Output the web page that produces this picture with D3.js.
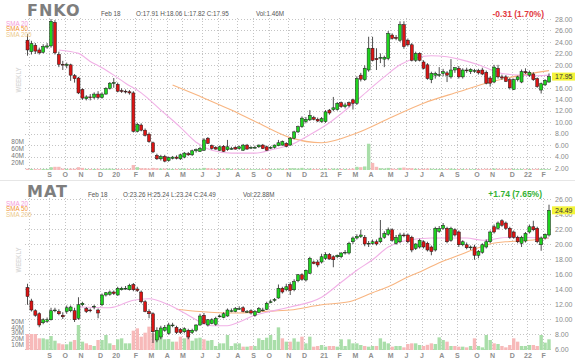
<!DOCTYPE html>
<html><head><meta charset="utf-8">
<script src="https://cdnjs.cloudflare.com/ajax/libs/d3/7.8.5/d3.min.js"></script>
<style>body{margin:0;background:#fff}svg{display:block}</style>
</head><body>
<svg id="chart" width="575" height="361"></svg>
<script>
// ---------- DATA (weekly candles) ----------
const monthTickWeeks  = [1,6,10,14,19,23,28,32,36,40,45,49,54,58,62,67,71,76,80,84,88,93,97,101,106,110,115,119,124,128,132];
const monthTickLabels = ['','S','O','N','D','20','F','M','A','M','J','J','A','S','O','N','D','21','F','M','A','M','J','J','A','S','O','N','D','22','F'];

const fnkoOpen = [24.3,22.3,23.4,22.6,22.2,23.1,23.3,27.4,21.8,20.1,
19.9,20.0,18.1,17.7,15.7,14.1,14.4,14.3,14.9,14.3,
14.9,15.9,16.8,16.6,15.5,15.4,15.3,15.1,8.4,9.5,
8.6,7.9,6.4,4.2,3.6,4.0,3.3,3.7,3.9,3.6,
3.9,4.5,4.3,5.0,4.9,5.1,7.2,5.9,5.6,5.1,
5.8,5.2,5.4,5.6,5.4,5.1,6.0,5.5,5.6,5.7,
6.0,5.7,5.5,5.6,5.9,6.0,6.3,
6.0,7.2,8.3,
9.2,10.1,10.4,10.8,10.5,10.1,10.1,12.1,12.2,12.2,
13.4,12.7,13.4,13.9,13.3,18.2,17.4,19.1,22.9,21.1,
21.2,21.0,21.1,25.2,24.8,24.3,27.0,24.3,23.5,20.8,
22.0,20.5,20.0,17.4,18.2,18.3,18.5,18.6,17.9,19.1,
19.4,17.9,19.1,18.8,19.0,19.0,19.1,18.7,17.7,17.0,
19.4,17.9,17.9,17.4,15.7,17.4,17.0,18.8,18.2,18.4,
17.6,15.6,16.5,17.0];
const fnkoHigh = [25.4,24.2,23.8,23.0,23.6,23.8,28.0,27.8,22.3,20.7,
20.4,20.2,18.4,17.9,15.9,14.7,14.9,15.2,15.4,15.2,
16.1,17.0,17.7,16.9,15.9,15.7,15.6,15.4,9.9,9.8,
8.9,8.2,6.6,4.5,4.3,4.3,4.0,4.1,4.2,4.5,
4.8,4.8,5.2,5.4,5.7,7.2,7.4,6.1,5.8,5.9,
6.0,6.9,5.7,5.8,5.9,6.2,6.2,5.8,5.9,6.1,
6.2,5.9,5.8,6.1,6.9,6.8,6.5,
7.4,8.5,9.4,
11.0,10.9,12.1,11.1,10.8,10.9,12.1,12.3,14.4,13.5,
13.6,13.4,13.6,14.1,18.0,18.6,19.9,24.9,24.9,22.9,
22.0,21.6,25.9,25.5,25.2,27.6,27.6,24.6,23.8,22.3,
22.2,20.8,20.3,18.8,18.8,19.6,19.3,18.9,21.0,19.6,
19.8,19.4,19.5,19.4,19.3,19.3,19.5,19.0,18.0,20.0,
20.0,18.3,18.2,17.7,17.6,18.1,19.2,19.4,19.0,18.7,
17.8,16.9,17.5,18.5];
const fnkoLow = [21.6,21.8,21.9,21.8,22.0,22.8,23.0,21.8,19.6,19.1,
19.4,17.2,16.9,14.9,13.9,13.8,13.8,14.0,14.0,14.1,
14.8,15.7,16.0,15.2,15.1,15.0,14.8,8.2,8.2,8.4,
7.5,6.4,4.6,3.4,3.3,3.0,3.1,3.5,3.5,3.4,
3.7,4.1,4.1,4.7,4.8,5.0,6.2,5.2,5.2,5.0,
4.8,5.0,5.2,5.2,5.2,5.0,5.2,5.3,5.4,5.5,
5.3,5.0,5.3,5.4,5.8,5.9,5.6,
5.9,7.0,8.1,
9.0,9.8,10.2,10.3,10.0,9.9,9.9,11.3,11.9,12.0,
12.5,12.4,12.6,12.2,13.0,17.1,17.2,18.8,20.6,19.1,
20.3,19.6,20.8,24.4,24.3,24.0,22.8,23.2,20.6,20.5,
20.6,19.2,17.4,16.8,17.6,17.9,18.0,17.0,17.6,18.6,
17.6,17.6,18.6,18.4,18.6,18.3,18.2,16.6,16.2,16.8,
17.6,17.4,17.0,15.7,15.6,17.1,16.8,18.4,17.9,17.2,
16.0,15.0,16.3,16.9];
const fnkoClose = [22.6,23.7,22.4,22.1,23.2,23.3,27.6,22.1,20.1,20.0,
20.1,18.2,17.6,15.1,14.2,14.4,14.3,14.9,14.3,14.9,
15.9,16.8,16.9,15.4,15.4,15.3,15.1,8.4,9.6,8.6,
7.7,6.6,4.8,3.6,4.0,3.2,3.8,3.9,3.7,4.3,
4.6,4.3,5.0,5.2,5.4,6.9,6.3,5.4,5.3,5.7,
4.9,5.7,5.4,5.3,5.7,6.0,5.3,5.6,5.6,6.0,
5.4,5.1,5.6,6.0,6.4,6.6,5.8,
7.2,8.3,9.2,
10.7,10.5,11.2,10.5,10.2,10.6,11.8,11.6,12.5,13.3,
12.7,13.0,12.9,13.3,17.6,17.5,19.4,22.9,20.8,20.9,
21.3,21.3,25.5,24.6,24.6,27.0,23.2,23.5,20.8,22.0,
20.8,19.4,17.6,18.5,18.5,18.3,18.8,18.2,19.1,19.5,
17.9,19.1,19.0,19.2,19.0,18.6,18.4,16.8,16.8,19.6,
17.9,17.7,17.1,16.0,17.4,17.9,18.8,18.6,18.7,17.4,
16.2,16.7,17.3,17.95];
const fnkoVolume = [3.5,3,2.5,2.5,3,3,8,9,9,4,
3,4,3.5,8,6,3,3,3,3.5,3,
3.5,4,3,3,2.5,2.5,3,14,8,5,
5,4,6,5,4,4,3.5,3,3,3.5,
4,3,3,3,3.5,6,5,4,3,3,
3,5,3,2.5,2.5,3,3,2.5,2.5,2.5,
3,3,2.5,3,4,3.5,3,
5,5,4,
6,3,4,3,3,3,4,3,4,3.5,
3,3,3,4,9,8,10,74,20,9,
5,4,6,4,3,6,7,5,5,3.5,
3,3,4,3.5,3,3,2.5,3,4,3,
3,3,2.5,2.5,2.5,3,2.5,3.5,3,4,
3.5,2.5,3,3.5,3,2.5,3,2.5,3,2.5,
3.5,3,2.5,2.5];

const matOpen = [14.2,12.4,11.1,10.7,9.5,9.7,9.9,11.2,11.0,10.5,
11.0,11.1,11.1,10.1,11.9,11.4,11.2,11.6,11.2,11.9,
13.2,13.3,13.6,13.2,13.9,14.1,13.9,14.6,14.0,13.6,
12.3,11.0,10.7,7.2,7.6,8.5,8.1,9.2,8.9,8.6,
8.3,8.5,8.2,8.5,9.2,10.5,9.2,9.4,9.3,10.4,
10.2,10.4,11.1,11.0,11.4,11.5,11.0,11.1,10.5,10.9,
11.2,11.3,12.3,12.5,12.8,14.1,13.9,
14.6,13.9,15.1,
15.9,15.2,16.1,17.6,17.6,17.6,18.1,18.6,18.3,18.3,
18.3,18.9,18.8,20.3,20.8,21.0,20.9,20.0,20.1,20.3,
20.3,20.9,21.3,21.9,20.1,20.3,21.2,21.2,20.9,19.4,
19.6,20.3,20.1,19.6,19.2,21.7,22.1,22.1,20.5,21.9,
21.6,19.9,19.9,19.5,19.6,18.5,18.9,19.6,20.3,22.3,
22.1,23.1,22.8,22.1,21.6,20.9,20.1,20.4,21.6,22.3,
22.1,19.9,20.8,21.2];
const matHigh = [14.7,12.7,11.3,10.9,10.1,10.2,11.5,11.5,11.3,10.9,
11.8,11.8,11.5,12.9,12.3,11.6,11.4,11.9,11.4,13.4,
13.6,13.8,13.8,14.3,14.3,14.4,14.7,14.8,14.3,13.8,
12.5,11.3,10.9,8.9,9.1,9.2,9.5,9.5,9.1,8.8,
8.9,8.7,8.7,9.3,10.7,10.8,10.0,10.1,10.3,10.6,
10.9,11.4,11.4,11.6,11.7,11.7,11.2,11.3,11.2,11.6,
11.5,12.3,12.6,12.8,14.6,14.3,14.7,
14.9,15.3,16.0,
16.1,16.6,18.3,17.8,17.9,18.7,18.9,18.8,18.5,18.6,
18.9,19.2,20.3,21.0,21.3,21.9,21.2,20.4,20.6,20.6,
23.2,21.7,22.2,22.1,21.2,21.5,21.5,21.4,21.1,20.1,
20.7,20.5,20.3,19.8,22.3,22.4,22.8,22.3,22.3,22.1,
21.8,20.5,20.2,19.8,19.9,19.2,20.1,20.6,21.8,22.6,
23.0,23.3,23.0,22.3,21.8,21.1,21.1,21.6,22.6,23.1,
22.3,21.0,21.4,25.24];
const matLow = [11.9,11.0,10.3,8.9,9.3,9.5,9.8,10.9,10.5,10.0,
10.7,10.9,9.6,9.9,11.7,10.8,10.9,11.3,10.1,11.7,
13.0,13.1,13.2,13.1,13.8,13.9,13.8,13.7,13.6,12.1,
10.9,10.1,6.8,6.9,7.3,8.3,7.9,8.9,8.0,8.0,
8.1,7.3,8.0,8.3,9.1,9.3,9.0,9.3,9.1,10.2,
10.1,10.3,10.9,10.9,11.2,10.9,10.8,10.6,10.3,10.8,
11.0,11.2,12.1,12.3,12.7,13.4,13.7,
13.2,13.7,14.9,
15.1,15.0,16.0,17.3,16.9,17.4,17.9,17.9,16.9,18.1,
18.1,18.6,18.6,20.0,20.6,20.8,19.7,19.6,19.9,19.8,
20.1,20.7,21.1,20.3,19.9,20.1,20.9,20.1,18.9,19.2,
19.4,19.4,19.0,18.5,19.0,21.5,21.9,20.1,20.3,21.0,
19.6,19.7,19.3,19.2,17.9,18.1,18.7,19.4,20.1,21.4,
21.9,22.3,21.9,20.7,20.7,20.1,19.6,20.2,21.4,21.7,
20.1,19.1,20.6,21.0];
const matClose = [13.0,11.2,10.5,9.2,9.9,9.9,11.1,11.2,10.7,10.3,
11.5,11.6,9.9,11.9,12.1,11.0,11.1,11.7,10.8,13.2,
13.5,13.6,13.4,14.1,14.1,14.1,14.5,13.9,13.8,12.3,
11.0,10.7,8.3,8.5,8.8,8.9,9.2,9.2,8.2,8.2,
8.7,7.6,8.5,9.2,10.4,9.4,9.9,9.9,10.1,10.4,
10.7,11.2,11.1,11.4,11.4,11.0,11.0,10.8,11.0,11.4,
11.2,12.1,12.3,12.6,14.1,13.6,14.3,
13.8,15.0,15.9,
15.3,16.5,18.1,17.4,17.2,18.3,18.6,18.0,17.9,18.5,
18.8,18.9,20.1,20.8,21.0,21.2,20.0,20.1,20.3,20.0,
20.8,21.4,21.9,20.5,20.9,21.2,21.1,20.3,19.2,20.0,
20.5,19.6,19.2,19.0,22.1,22.1,22.5,20.3,22.1,21.2,
19.9,20.3,19.5,19.6,18.5,19.0,19.9,20.3,21.6,21.6,
22.8,22.5,22.1,20.9,20.9,20.3,20.9,21.4,22.3,21.9,
20.3,20.8,21.3,24.49];
const matVolume = [27.8,27.8,27.8,20.3,20.3,18.6,24.3,16.2,11.6,9.9,
9.9,14.5,17.4,43.5,14.5,11.6,8.7,7.0,17.4,17.4,
26.1,11.6,8.7,18.6,20.3,11.6,11.6,33.6,37.7,23.2,
30.1,40.6,29.0,34.8,26.1,18.6,19.1,14.5,14.5,23.2,
20.3,23.2,16.2,20.3,21.4,18.6,16.2,17.4,7.0,11.6,
11.6,26.1,7.0,11.6,11.6,5.8,5.8,7.0,7.0,20.3,
17.4,21.4,26.1,17.4,39.4,20.3,14.5,
14.5,20.3,14.5,23.2,11.6,23.2,5.8,7.0,8.7,5.8,
7.0,7.0,5.8,18.6,7.0,18.6,11.6,11.6,8.7,7.0,
5.8,7.0,7.0,20.3,14.5,11.6,5.8,7.0,7.0,4.6,
10.4,11.6,11.6,8.7,7.0,9.0,11.6,10.4,22.0,17.4,
14.5,7.0,7.0,5.8,5.8,4.6,7.0,20.3,7.0,4.6,
26.1,17.4,11.6,10.4,7.0,4.6,8.7,20.3,14.5,7.0,
7.0,8.7,8.7,7.0,26.1,12.8,18.6];

// moving averages (week index, value)
const fnkoSma20Week = [8,13,16,19,22,25,29,34,39,43,47,52,58,63,67,72,77,82,87,91,95,99,103,107,110,115,118,121,126,130,133];
const fnkoSma20 = [22.6,22.0,20.6,19.5,18.2,16.8,15.1,12.1,9.1,6.5,5.1,4.6,4.6,5.3,6.0,7.8,9.9,12.6,15.6,17.9,20.0,21.2,21.6,21.4,21.0,20.0,19.2,18.5,18.2,18.1,18.2];
const fnkoSma50Week = [37,44,52,59,67,75,84,93,101,110,118,126,133];
const fnkoSma50 = [16.5,14.5,12.1,9.8,7.3,6.4,8.1,10.9,13.3,15.3,17.0,18.2,19.0];
const matSma20Week = [13,21,27,31,36,41,44,47,51,54,58,61,67,75,80,84,88,92,96,103,112,116,123,133];
const matSma20 = [11.6,11.5,12.5,12.7,11.9,10.5,9.6,9.1,9.1,9.6,10.5,10.9,11.6,12.9,14.9,16.5,17.9,19.6,20.4,20.8,20.8,20.5,20.9,20.8];
const matSma50Week = [38,44,53,60,67,75,82,88,92,97,101,105,110,115,118,122,126,133];
const matSma50 = [11.3,11.0,10.8,11.0,11.2,11.9,12.3,13.5,14.3,15.6,16.5,17.5,18.5,19.5,20.0,20.3,20.4,20.8];

const fnkoPriceTicks = [2,4,6,8,10,12,14,16,18,20,22,24,26,28];
const matPriceTicks = [6,8,10,12,14,16,18,20,22,24,26];
const fnkoVolTicks = [20,40,60,80];
const matVolTicks = [10,20,30,40,50];

// ---------- DRAW ----------
const FONT = '"Liberation Sans", Arial, sans-serif';
const svg = d3.select('#chart');
const N = fnkoClose.length;
const x = d3.scaleLinear().domain([0, N - 1]).range([27.5, 549]);

svg.append('line').attr('x1',0).attr('x2',575).attr('y1',180.5).attr('y2',180.5).attr('stroke','#e6e6e6');

function panel(o) {
  const g = svg.append('g');
  const y = d3.scaleLinear().domain(o.yDomain).range(o.yRange);
  const yv = d3.scaleLinear().domain([0, o.volMax]).range([o.volBase, o.volTop]);
  const top = o.yRange[1];

  // grid
  g.append('g').selectAll('line').data(o.priceTicks).join('line')
    .attr('x1', 25).attr('x2', 551)
    .attr('y1', d => Math.round(y(d)) + 0.5).attr('y2', d => Math.round(y(d)) + 0.5)
    .attr('stroke', '#c4c4c4').attr('stroke-dasharray', '1,2');
  g.append('g').selectAll('line').data(monthTickWeeks).join('line')
    .attr('x1', d => Math.round(x(d - 0.5)) + 0.5).attr('x2', d => Math.round(x(d - 0.5)) + 0.5)
    .attr('y1', top - 1).attr('y2', o.volBase)
    .attr('stroke', '#c4c4c4').attr('stroke-dasharray', '1,2');

  // volume
  const idx = d3.range(N);
  g.append('g').selectAll('rect').data(idx).join('rect')
    .attr('x', i => x(i) - 1.7).attr('width', 3.4)
    .attr('y', i => yv(o.vol[i])).attr('height', i => o.volBase - yv(o.vol[i]))
    .attr('fill', i => o.close[i] >= o.open[i] ? '#a9dea9' : '#f7b9b9');

  // moving averages
  const line = d3.line().x(d => x(d[0])).y(d => y(d[1])).curve(d3.curveMonotoneX);
  g.append('path').datum(o.sma50Week.map((w, k) => [w, o.sma50[k]]))
    .attr('d', line).attr('fill', 'none').attr('stroke', '#f8b581').attr('stroke-width', 1.1);
  g.append('path').datum(o.sma20Week.map((w, k) => [w, o.sma20[k]]))
    .attr('d', line).attr('fill', 'none').attr('stroke', '#f1b0e6').attr('stroke-width', 1.1);

  // candles
  const c = g.append('g');
  c.selectAll('line').data(idx).join('line')
    .attr('x1', i => x(i)).attr('x2', i => x(i))
    .attr('y1', i => y(o.high[i])).attr('y2', i => y(o.low[i]))
    .attr('stroke', '#222').attr('stroke-width', 0.8);
  c.selectAll('rect').data(idx).join('rect')
    .attr('x', i => x(i) - 1.5).attr('width', 3)
    .attr('y', i => y(Math.max(o.open[i], o.close[i])))
    .attr('height', i => Math.max(0.8, Math.abs(y(o.open[i]) - y(o.close[i]))))
    .attr('fill', i => o.close[i] >= o.open[i] ? '#1fd41f' : '#dc1414')
    .attr('stroke', '#1a1a1a').attr('stroke-width', 0.5);

  // price axis (right)
  const ay = g.append('g').attr('transform', 'translate(551,0)')
    .call(d3.axisRight(y).tickValues(o.priceTicks).tickFormat(d3.format('.2f')).tickSize(0).tickPadding(4));
  ay.select('.domain').remove();
  ay.attr('font-size', 7).attr('font-family', FONT);
  ay.selectAll('text').attr('fill', '#8a8a8a');

  // volume axis (left)
  const av = g.append('g').attr('transform', 'translate(25,0)')
    .call(d3.axisLeft(yv).tickValues(o.volTicks).tickFormat(d => d + 'M').tickSize(0).tickPadding(1));
  av.select('.domain').remove();
  av.attr('font-size', 6.5).attr('font-family', FONT);
  av.selectAll('text').attr('fill', '#777');

  // month axis (bottom)
  const ax = g.append('g').attr('transform', `translate(0,${o.monthY})`)
    .call(d3.axisBottom(x).tickValues(monthTickWeeks.map(w => w - 0.5))
      .tickFormat((d, k) => monthTickLabels[k]).tickSize(0).tickPadding(0));
  ax.select('.domain').remove();
  ax.attr('font-size', 7).attr('font-family', FONT).attr('font-weight', 'bold');
  ax.selectAll('text').attr('fill', '#8f8f8f');

  // last price tag
  const last = o.close[N - 1];
  g.append('rect').attr('x', 552).attr('y', y(last) - 4).attr('width', 23).attr('height', 8).attr('fill', '#f4f43a');
  g.append('text').attr('x', 555).attr('y', y(last) + 2.5).text(last.toFixed(2))
    .attr('font-size', 7).attr('font-family', FONT).attr('fill', '#333');

  // headers
  g.append('text').attr('x', 27).attr('y', o.titleY).text(o.title)
    .attr('font-family', '"DejaVu Sans", sans-serif').attr('font-weight', 'bold')
    .attr('font-size', 16).attr('letter-spacing', 1).attr('fill', '#7e7e7e');
  const info = g.append('text').attr('y', o.infoY).attr('font-size', 6.3).attr('font-family', FONT).attr('fill', '#555');
  info.append('tspan').attr('x', o.infoX).text(o.infoDate);
  info.append('tspan').attr('x', o.infoX + 35).text(o.infoOHLC);
  info.append('tspan').attr('x', o.infoX + 155).text(o.infoVol);
  g.append('text').attr('x', o.changeX).attr('y', o.infoY + 0.3).attr('text-anchor', 'end').text(o.change)
    .attr('font-size', 8.5).attr('font-weight', 'bold').attr('font-family', FONT).attr('fill', o.changeColor);

  const legend = [['SMA 20', '#f49bd9'], ['SMA 50', '#f29335'], ['SMA 200', '#ecc98c']];
  g.append('g').selectAll('text').data(legend).join('text')
    .attr('x', 6).attr('y', (d, k) => o.legendY + k * 5.6).text(d => d[0])
    .attr('fill', d => d[1]).attr('font-size', 6.3).attr('font-family', FONT);

  g.append('text').attr('transform', `translate(${o.weeklyX},${o.weeklyY}) rotate(-90)`)
    .attr('text-anchor', 'middle').text('WEEKLY')
    .attr('font-size', 8).attr('font-weight', 'bold').attr('font-family', FONT).attr('fill', '#dadada')
    .attr('textLength', 25).attr('lengthAdjust', 'spacingAndGlyphs');
}

panel({
  title: 'FNKO', titleY: 16, infoX: 101, infoY: 16.3,
  infoDate: 'Feb 18', infoOHLC: 'O:17.91 H:18.06 L:17.82 C:17.95', infoVol: 'Vol:1.46M',
  change: '-0.31 (1.70%)', changeColor: '#e23a3f', changeX: 544,
  legendY: 25.6, weeklyX: 21, weeklyY: 80,
  yDomain: [2, 28], yRange: [168, 19], priceTicks: fnkoPriceTicks,
  volMax: 80, volBase: 170, volTop: 141.6, volTicks: fnkoVolTicks, monthY: 172.5,
  open: fnkoOpen, high: fnkoHigh, low: fnkoLow, close: fnkoClose, vol: fnkoVolume,
  sma20Week: fnkoSma20Week, sma20: fnkoSma20, sma50Week: fnkoSma50Week, sma50: fnkoSma50
});
panel({
  title: 'MAT', titleY: 196.5, infoX: 88, infoY: 197,
  infoDate: 'Feb 18', infoOHLC: 'O:23.26 H:25.24 L:23.24 C:24.49', infoVol: 'Vol:22.88M',
  change: '+1.74 (7.65%)', changeColor: '#33b133', changeX: 542,
  legendY: 205.6, weeklyX: 21, weeklyY: 260,
  yDomain: [6, 26], yRange: [349, 199], priceTicks: matPriceTicks,
  volMax: 50, volBase: 350, volTop: 321.25, volTicks: matVolTicks, monthY: 353,
  open: matOpen, high: matHigh, low: matLow, close: matClose, vol: matVolume,
  sma20Week: matSma20Week, sma20: matSma20, sma50Week: matSma50Week, sma50: matSma50
});
</script>
</body></html>
